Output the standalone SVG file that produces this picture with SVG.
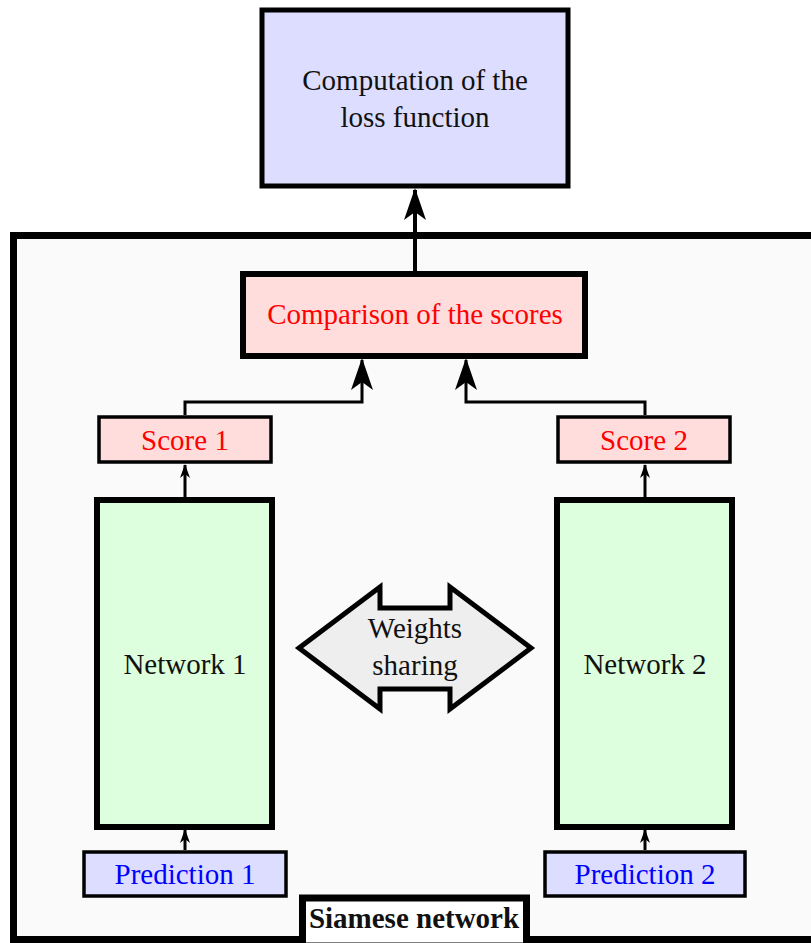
<svg xmlns="http://www.w3.org/2000/svg" width="811" height="943" viewBox="0 0 811 943">
<style>
text{font-family:"Liberation Serif","Times New Roman",serif;font-size:29px;text-anchor:middle}
.blk{fill:#111}.red{fill:#f00}.blue{fill:#00f}
.c{fill:none;stroke:#000;stroke-width:4}
.cs{fill:none;stroke:#000;stroke-width:3}
</style>
<defs>
<marker id="ah" markerUnits="userSpaceOnUse" viewBox="0 0 32 22" refX="30" refY="11" markerWidth="32" markerHeight="22" orient="auto">
<path d="M0,0 L32,11 L0,22 L8,11 Z" fill="#000"/>
</marker>
<marker id="ahs" markerUnits="userSpaceOnUse" viewBox="0 0 14 10" refX="13" refY="5" markerWidth="14" markerHeight="10" orient="auto">
<path d="M0,0 L14,5 L0,10 L4,5 Z" fill="#000"/>
</marker>
</defs>
<g id="siamese-frame">
<rect x="13.5" y="235.5" width="810" height="704" fill="#fafafa" stroke="#000" stroke-width="7"/>
</g>
<g id="loss">
<rect x="262" y="10" width="306" height="176" fill="#ddf" stroke="#000" stroke-width="5"/>
<text x="415" y="90" class="blk">Computation of the</text>
<text x="415" y="127" class="blk">loss function</text>
</g>
<g id="comparison">
<rect x="243" y="274" width="342" height="82" fill="#fdd" stroke="#000" stroke-width="6"/>
<text x="415" y="324" class="red">Comparison of the scores</text>
</g>
<g id="score1">
<rect x="99" y="417" width="172" height="45" fill="#fdd" stroke="#000" stroke-width="3.5"/>
<text x="185" y="450" class="red">Score 1</text>
</g>
<g id="score2">
<rect x="558" y="417" width="172" height="45" fill="#fdd" stroke="#000" stroke-width="3.5"/>
<text x="644" y="450" class="red">Score 2</text>
</g>
<g id="network1">
<rect x="97" y="500" width="175" height="327" fill="#dfd" stroke="#000" stroke-width="6"/>
<text x="185" y="674" class="blk">Network 1</text>
</g>
<g id="network2">
<rect x="557" y="500" width="175" height="327" fill="#dfd" stroke="#000" stroke-width="6"/>
<text x="645" y="674" class="blk">Network 2</text>
</g>
<g id="prediction1">
<rect x="84" y="852" width="202" height="44" fill="#ddf" stroke="#000" stroke-width="3.5"/>
<text x="185" y="884" class="blue">Prediction 1</text>
</g>
<g id="prediction2">
<rect x="545" y="852" width="200" height="44" fill="#ddf" stroke="#000" stroke-width="3.5"/>
<text x="645" y="884" class="blue">Prediction 2</text>
</g>
<g id="weights">
<polygon points="299,648 380,587 380,608 450,608 450,587 531,648 450,709 450,689 380,689 380,709" fill="#eee" stroke="#000" stroke-width="5"/>
<text x="415" y="638" class="blk">Weights</text>
<text x="415" y="675" class="blk">sharing</text>
</g>
<g id="siamese-label">
<rect x="302.5" y="898" width="224" height="48" fill="#fff" stroke="#000" stroke-width="7"/>
<text x="414" y="928" class="blk" style="font-weight:bold;font-size:29px">Siamese network</text>
</g>
<g id="connectors">
<path class="c" d="M415,271 L415,190" marker-end="url(#ah)"/>
<path class="cs" d="M185,415 L185,402 L362,402 L362,360" marker-end="url(#ah)"/>
<path class="cs" d="M645,415 L645,402 L466,402 L466,360" marker-end="url(#ah)"/>
<path class="cs" d="M185,497 L185,465" marker-end="url(#ahs)"/>
<path class="cs" d="M645,497 L645,465" marker-end="url(#ahs)"/>
<path class="cs" d="M185,850 L185,830" marker-end="url(#ahs)"/>
<path class="cs" d="M645,850 L645,830" marker-end="url(#ahs)"/>
</g>
</svg>
